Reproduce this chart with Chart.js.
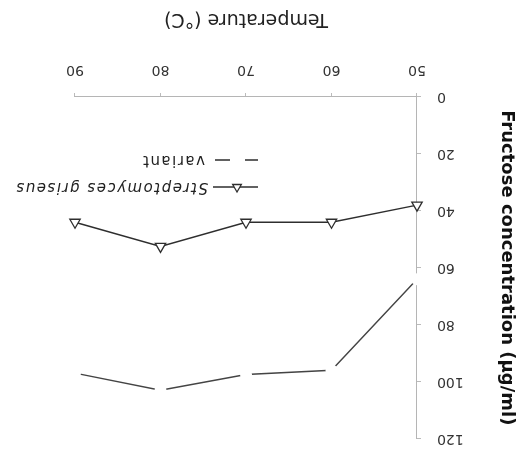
<!DOCTYPE html>
<html>
<head>
<meta charset="utf-8">
<script src="https://cdn.jsdelivr.net/npm/chart.js@4.4.1/dist/chart.umd.min.js"></script>
<style>
  html, body { margin: 0; padding: 0; background: #fff; }
  /* the figure is printed upside down */
  #wrap { width: 529px; height: 463px; transform: rotate(180deg); }
  canvas { display: block; }
</style>
</head>
<body>
<div id="wrap"><canvas id="c" width="529" height="463"></canvas></div>
<script>
// Fructose produced at each incubation temperature
const temperatures = [50, 60, 70, 80, 90];
const griseusFructose = [38, 44, 44, 52.5, 44];
const variantFructose = [64, 96, 97.5, 103, 97];

const xTicks = [50, 60, 70, 80, 90];
const yTicks = [0, 20, 40, 60, 80, 100, 120];
const seriesNames = ['Streptomyces griseus', 'variant'];

const FONT = '"DejaVu Sans", Verdana, sans-serif';
const INK = '#2e2e2e';

const toPoints = (xs, ys) => xs.map((x, i) => ({ x, y: ys[i] }));

// Legend drawn inside the plot, lower right
const inlineLegend = {
  id: 'inlineLegend',
  afterDatasetsDraw(chart) {
    const ctx = chart.ctx;
    ctx.save();
    ctx.strokeStyle = INK;
    ctx.fillStyle = '#fff';
    ctx.lineWidth = 1.3;

    // Streptomyces griseus: line with open triangle
    let y = 276;
    ctx.beginPath(); ctx.moveTo(271, y); ctx.lineTo(316, y); ctx.stroke();
    Chart.helpers.drawPoint(ctx, { pointStyle: 'triangle', radius: 5, borderWidth: 1.3, rotation: 0 }, 292, y);

    ctx.fillStyle = '#222';
    ctx.textBaseline = 'middle';
    ctx.textAlign = 'left';
    if ('letterSpacing' in ctx) ctx.letterSpacing = '1.5px';
    ctx.font = 'italic 15px ' + FONT;
    ctx.fillText(seriesNames[0], 321, y);

    // variant: broken line
    y = 303;
    ctx.beginPath();
    ctx.moveTo(271, y); ctx.lineTo(284, y);
    ctx.moveTo(299, y); ctx.lineTo(314, y);
    ctx.stroke();
    ctx.font = '15px ' + FONT;
    ctx.fillText(seriesNames[1], 324, y);
    ctx.restore();
  }
};

new Chart(document.getElementById('c'), {
  type: 'line',
  data: {
    datasets: [
      {
        label: seriesNames[1],
        data: toPoints(temperatures, variantFructose),
        borderColor: '#444',
        borderWidth: 1.4,
        // white discs leave a gap in the line at each reading
        pointRadius: 6,
        pointBackgroundColor: '#fff',
        pointBorderWidth: 0,
        pointHoverRadius: 6,
        tension: 0,
        clip: false
      },
      {
        label: seriesNames[0],
        data: toPoints(temperatures, griseusFructose),
        borderColor: INK,
        borderWidth: 1.4,
        pointStyle: 'triangle',
        pointRotation: 0,
        pointRadius: 6,
        pointBackgroundColor: '#fff',
        pointBorderColor: INK,
        pointBorderWidth: 1.3,
        tension: 0,
        clip: false
      }
    ]
  },
  options: {
    responsive: false,
    animation: false,
    events: [],
    layout: { padding: { top: 11, right: 75, left: 0, bottom: 0 } },
    plugins: {
      legend: { display: false },
      tooltip: { enabled: false }
    },
    scales: {
      x: {
        type: 'linear',
        min: 50,
        max: 90,
        afterBuildTicks: s => { s.ticks = xTicks.map(v => ({ value: v })); },
        afterFit: s => { s.height = 97; },
        ticks: { font: { family: FONT, size: 14 }, color: '#333', padding: 15 },
        grid: { drawOnChartArea: false, tickLength: 4, color: '#bbb' },
        border: { color: '#b5b5b5', dash: [1, 3], width: 1 },
        title: {
          display: true,
          text: 'Temperature (°C)',
          font: { family: FONT, size: 19 },
          color: '#222',
          padding: { top: 0, bottom: 8 }
        }
      },
      y: {
        type: 'linear',
        min: 0,
        max: 120,
        afterBuildTicks: s => { s.ticks = yTicks.map(v => ({ value: v })); },
        afterFit: s => { s.width = 112; },
        ticks: { font: { family: FONT, size: 14 }, color: '#333', padding: 16 },
        grid: { drawOnChartArea: false, tickLength: 4, color: '#bbb' },
        border: { color: '#b5b5b5', dash: [1, 3], width: 1 },
        title: {
          display: true,
          text: 'Fructose concentration (µg/ml)',
          font: { family: FONT, size: 18, weight: 'bold' },
          color: '#111',
          padding: { top: 12, bottom: 0 }
        }
      }
    }
  },
  plugins: [inlineLegend]
});
</script>
</body>
</html>
